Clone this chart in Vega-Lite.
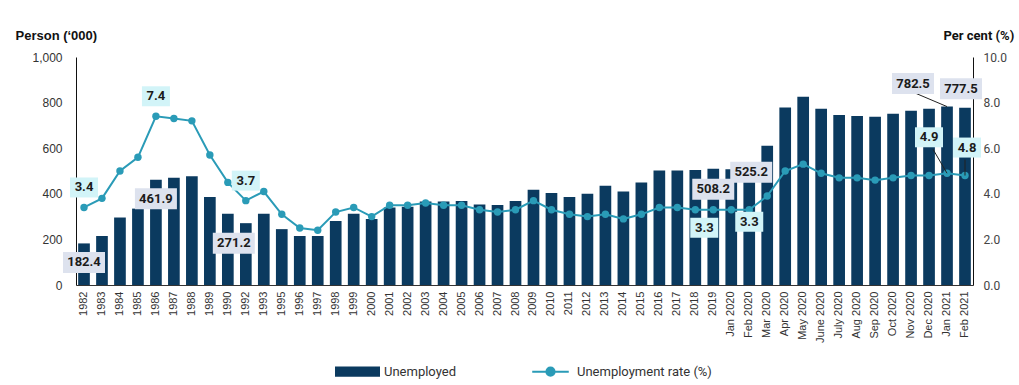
{
  "$schema": "https://vega.github.io/schema/vega-lite/v6.json",
  "width": 897,
  "height": 228,
  "autosize": {"type": "none"},
  "padding": {"left": 76, "top": 57, "right": 46, "bottom": 100},
  "background": "white",
  "config": {"view": {"stroke": null}, "font": "Liberation Sans"},
  "data": {"values": [
    {"cat": "1982", "u": 182.4, "r": 3.4},
    {"cat": "1983", "u": 215, "r": 3.8},
    {"cat": "1984", "u": 296, "r": 5.0},
    {"cat": "1985", "u": 335, "r": 5.6},
    {"cat": "1986", "u": 461.9, "r": 7.4},
    {"cat": "1987", "u": 470, "r": 7.3},
    {"cat": "1988", "u": 477, "r": 7.2},
    {"cat": "1989", "u": 386, "r": 5.7},
    {"cat": "1990", "u": 313, "r": 4.5},
    {"cat": "1992", "u": 271.2, "r": 3.7},
    {"cat": "1993", "u": 313, "r": 4.1},
    {"cat": "1995", "u": 245, "r": 3.1},
    {"cat": "1996", "u": 215, "r": 2.5},
    {"cat": "1997", "u": 215, "r": 2.4},
    {"cat": "1998", "u": 281, "r": 3.2},
    {"cat": "1999", "u": 313, "r": 3.4},
    {"cat": "2000", "u": 290, "r": 3.0},
    {"cat": "2001", "u": 340, "r": 3.5},
    {"cat": "2002", "u": 343, "r": 3.5},
    {"cat": "2003", "u": 366, "r": 3.6},
    {"cat": "2004", "u": 366, "r": 3.5},
    {"cat": "2005", "u": 368, "r": 3.5},
    {"cat": "2006", "u": 353, "r": 3.3},
    {"cat": "2007", "u": 351, "r": 3.2},
    {"cat": "2008", "u": 368, "r": 3.3},
    {"cat": "2009", "u": 418, "r": 3.7},
    {"cat": "2010", "u": 403, "r": 3.3},
    {"cat": "2011", "u": 386, "r": 3.1},
    {"cat": "2012", "u": 400, "r": 3.0},
    {"cat": "2013", "u": 435, "r": 3.1},
    {"cat": "2014", "u": 410, "r": 2.9},
    {"cat": "2015", "u": 450, "r": 3.1},
    {"cat": "2016", "u": 502, "r": 3.4},
    {"cat": "2017", "u": 502, "r": 3.4},
    {"cat": "2018", "u": 504, "r": 3.3},
    {"cat": "2019", "u": 510, "r": 3.3},
    {"cat": "Jan 2020", "u": 508.2, "r": 3.3},
    {"cat": "Feb 2020", "u": 525.2, "r": 3.3},
    {"cat": "Mar 2020", "u": 610.5, "r": 3.9},
    {"cat": "Apr 2020", "u": 778.8, "r": 5.0},
    {"cat": "May 2020", "u": 826.1, "r": 5.3},
    {"cat": "June 2020", "u": 773.2, "r": 4.9},
    {"cat": "July 2020", "u": 745.1, "r": 4.7},
    {"cat": "Aug 2020", "u": 741.6, "r": 4.7},
    {"cat": "Sep 2020", "u": 737.5, "r": 4.6},
    {"cat": "Oct 2020", "u": 751.2, "r": 4.7},
    {"cat": "Nov 2020", "u": 764.4, "r": 4.8},
    {"cat": "Dec 2020", "u": 772.9, "r": 4.8},
    {"cat": "Jan 2021", "u": 782.5, "r": 4.9},
    {"cat": "Feb 2021", "u": 777.5, "r": 4.8}
  ]},
  "encoding": {
    "x": {
      "field": "cat", "type": "ordinal", "sort": null,
      "scale": {"paddingInner": 0.35, "paddingOuter": 0.12},
      "axis": {"title": null, "labelAngle": -90, "labelFontSize": 11, "labelColor": "#333", "labelFont": "Liberation Sans", "ticks": false, "tickSize": 0, "labelPadding": 6, "domainColor": "#333", "labelOverlap": false}
    }
  },
  "layer": [
    {
      "encoding": {
        "y": {
          "field": "u", "type": "quantitative",
          "scale": {"domain": [0, 1000], "nice": false},
          "axis": {"title": "Person (‘000)", "titleAngle": 0, "titleX": -61, "titleY": -22, "titleAlign": "left", "titleBaseline": "middle", "titleFont": "Liberation Sans", "titleFontSize": 13, "titleFontWeight": "bold", "titleColor": "#111", "values": [0, 200, 400, 600, 800, 1000], "format": ",.0f", "grid": false, "ticks": false, "tickSize": 0, "labelPadding": 14, "labelFontSize": 12, "labelColor": "#333", "labelFont": "Liberation Sans", "domainColor": "#111"}
        }
      },
      "layer": [
        {
          "mark": {"type": "bar"},
          "encoding": {
            "color": {
              "datum": "Unemployed",
              "scale": {"domain": ["Unemployed", "Unemployment rate (%)"], "range": ["#0b3a5f", "#2a9bb7"]},
              "legend": {
                "orient": "none", "legendX": 259, "legendY": 292, "direction": "horizontal", "title": null, "padding": 0,
                "symbolSize": 1849, "symbolStrokeWidth": 2, "labelFontSize": 13, "labelFont": "Roboto", "labelColor": "#333", "labelOffset": 4, "columnPadding": 72, "labelLimit": 0,
                "encode": {"symbols": {"update": {
                  "shape": [{"test": "datum.value === 'Unemployed'", "value": "M-1,-0.19H1V0.19H-1Z"}, {"value": "M-0.85,0H0.85M-0.19,0A0.19,0.19,0,1,1,0.19,0A0.19,0.19,0,1,1,-0.19,0Z"}],
                  "fill": [{"test": "datum.value === 'Unemployed'", "value": "#0b3a5f"}, {"value": "#2a9bb7"}],
                  "stroke": [{"test": "datum.value === 'Unemployed'", "value": "#0b3a5f"}, {"value": "#2a9bb7"}],
                  "opacity": {"value": 1}, "fillOpacity": {"value": 1}, "strokeOpacity": {"value": 1}
                }}}
              }
            }
          }
        },
        {
          "transform": [{"filter": {"field": "cat", "equal": "Jan 2021"}}],
          "mark": {"type": "rule", "color": "#222", "strokeWidth": 1, "x2Offset": -33, "y2Offset": -14},
          "encoding": {"x2": {"field": "cat"}, "y2": {"field": "u"}}
        },
        {"transform": [{"filter": {"field": "cat", "oneOf": ["1982", "1986"]}}], "mark": {"type": "point", "shape": "M-1,-0.5H1V0.5H-1Z", "size": 1764, "filled": true, "fill": "#dde2ee", "opacity": 1, "strokeWidth": 0, "yOffset": 19}},
        {"transform": [{"filter": {"field": "cat", "oneOf": ["1982", "1986"]}}], "mark": {"type": "text", "font": "Roboto", "fontWeight": "bold", "fontSize": 13, "color": "#1b1b1b", "baseline": "middle", "yOffset": 19}, "encoding": {"text": {"field": "u", "format": ".1f"}}},
        {"transform": [{"filter": {"field": "cat", "equal": "1992"}}], "mark": {"type": "point", "shape": "M-1,-0.5H1V0.5H-1Z", "size": 1764, "filled": true, "fill": "#dde2ee", "opacity": 1, "strokeWidth": 0, "xOffset": -12, "yOffset": 20}},
        {"transform": [{"filter": {"field": "cat", "equal": "1992"}}], "mark": {"type": "text", "font": "Roboto", "fontWeight": "bold", "fontSize": 13, "color": "#1b1b1b", "baseline": "middle", "xOffset": -12, "yOffset": 20}, "encoding": {"text": {"field": "u", "format": ".1f"}}},
        {"transform": [{"filter": {"field": "cat", "equal": "Jan 2020"}}], "mark": {"type": "point", "shape": "M-1,-0.5H1V0.5H-1Z", "size": 1764, "filled": true, "fill": "#dde2ee", "opacity": 1, "strokeWidth": 0, "xOffset": -18, "yOffset": 20}},
        {"transform": [{"filter": {"field": "cat", "equal": "Jan 2020"}}], "mark": {"type": "text", "font": "Roboto", "fontWeight": "bold", "fontSize": 13, "color": "#1b1b1b", "baseline": "middle", "xOffset": -18, "yOffset": 20}, "encoding": {"text": {"field": "u", "format": ".1f"}}},
        {"transform": [{"filter": {"field": "cat", "equal": "Feb 2020"}}], "mark": {"type": "point", "shape": "M-1,-0.5H1V0.5H-1Z", "size": 1764, "filled": true, "fill": "#dde2ee", "opacity": 1, "strokeWidth": 0, "xOffset": 2, "yOffset": 7}},
        {"transform": [{"filter": {"field": "cat", "equal": "Feb 2020"}}], "mark": {"type": "text", "font": "Roboto", "fontWeight": "bold", "fontSize": 13, "color": "#1b1b1b", "baseline": "middle", "xOffset": 2, "yOffset": 7}, "encoding": {"text": {"field": "u", "format": ".1f"}}},
        {"transform": [{"filter": {"field": "cat", "equal": "Jan 2021"}}], "mark": {"type": "point", "shape": "M-1,-0.5H1V0.5H-1Z", "size": 1764, "filled": true, "fill": "#dde2ee", "opacity": 1, "strokeWidth": 0, "xOffset": -34, "yOffset": -23}},
        {"transform": [{"filter": {"field": "cat", "equal": "Jan 2021"}}], "mark": {"type": "text", "font": "Roboto", "fontWeight": "bold", "fontSize": 13, "color": "#1b1b1b", "baseline": "middle", "xOffset": -34, "yOffset": -23}, "encoding": {"text": {"field": "u", "format": ".1f"}}},
        {"transform": [{"filter": {"field": "cat", "equal": "Feb 2021"}}], "mark": {"type": "point", "shape": "M-1,-0.5H1V0.5H-1Z", "size": 1764, "filled": true, "fill": "#dde2ee", "opacity": 1, "strokeWidth": 0, "xOffset": -4, "yOffset": -19}},
        {"transform": [{"filter": {"field": "cat", "equal": "Feb 2021"}}], "mark": {"type": "text", "font": "Roboto", "fontWeight": "bold", "fontSize": 13, "color": "#1b1b1b", "baseline": "middle", "xOffset": -4, "yOffset": -19}, "encoding": {"text": {"field": "u", "format": ".1f"}}}
      ]
    },
    {
      "encoding": {
        "y": {
          "field": "r", "type": "quantitative",
          "scale": {"domain": [0, 10], "nice": false},
          "axis": {"orient": "right", "title": "Per cent (%)", "titleAngle": 0, "titleX": -30, "titleY": -22, "titleAlign": "left", "titleBaseline": "middle", "titleFont": "Roboto", "titleFontSize": 13, "titleFontWeight": "bold", "titleColor": "#111", "values": [0, 2, 4, 6, 8, 10], "format": ".1f", "grid": false, "ticks": false, "tickSize": 0, "labelPadding": 10, "labelFontSize": 12, "labelColor": "#444", "labelFont": "Roboto", "domainColor": "#111"}
        }
      },
      "layer": [
        {
          "mark": {"type": "line", "strokeWidth": 2, "point": {"filled": true, "size": 55}},
          "encoding": {"color": {"datum": "Unemployment rate (%)"}}
        },
        {
          "transform": [{"filter": {"field": "cat", "equal": "Jan 2021"}}],
          "mark": {"type": "rule", "color": "#222", "strokeWidth": 1, "x2Offset": -14, "y2Offset": -24},
          "encoding": {"x2": {"field": "cat"}, "y2": {"field": "r"}}
        },
        {
          "transform": [{"filter": {"field": "cat", "equal": "Feb 2021"}}],
          "mark": {"type": "rule", "color": "#222", "strokeWidth": 1, "y2Offset": -16},
          "encoding": {"x2": {"field": "cat"}, "y2": {"field": "r"}}
        },
        {"transform": [{"filter": {"field": "cat", "oneOf": ["1982", "1986", "1992"]}}], "mark": {"type": "point", "shape": "M-1,-0.714H1V0.714H-1Z", "size": 784, "filled": true, "fill": "#d2f4f8", "opacity": 1, "strokeWidth": 0, "yOffset": -20}},
        {"transform": [{"filter": {"field": "cat", "oneOf": ["1982", "1986", "1992"]}}], "mark": {"type": "text", "font": "Roboto", "fontWeight": "bold", "fontSize": 13, "color": "#1b1b1b", "baseline": "middle", "yOffset": -20}, "encoding": {"text": {"field": "r", "format": ".1f"}}},
        {"transform": [{"filter": {"field": "cat", "equal": "Jan 2020"}}], "mark": {"type": "point", "shape": "M-1,-0.714H1V0.714H-1Z", "size": 784, "filled": true, "fill": "#d2f4f8", "opacity": 1, "strokeWidth": 0, "xOffset": -27, "yOffset": 18}},
        {"transform": [{"filter": {"field": "cat", "equal": "Jan 2020"}}], "mark": {"type": "text", "font": "Roboto", "fontWeight": "bold", "fontSize": 13, "color": "#1b1b1b", "baseline": "middle", "xOffset": -27, "yOffset": 18}, "encoding": {"text": {"field": "r", "format": ".1f"}}},
        {"transform": [{"filter": {"field": "cat", "equal": "Feb 2020"}}], "mark": {"type": "point", "shape": "M-1,-0.714H1V0.714H-1Z", "size": 784, "filled": true, "fill": "#d2f4f8", "opacity": 1, "strokeWidth": 0, "yOffset": 12}},
        {"transform": [{"filter": {"field": "cat", "equal": "Feb 2020"}}], "mark": {"type": "text", "font": "Roboto", "fontWeight": "bold", "fontSize": 13, "color": "#1b1b1b", "baseline": "middle", "yOffset": 12}, "encoding": {"text": {"field": "r", "format": ".1f"}}},
        {"transform": [{"filter": {"field": "cat", "equal": "Jan 2021"}}], "mark": {"type": "point", "shape": "M-1,-0.714H1V0.714H-1Z", "size": 784, "filled": true, "fill": "#d2f4f8", "opacity": 1, "strokeWidth": 0, "xOffset": -18, "yOffset": -36}},
        {"transform": [{"filter": {"field": "cat", "equal": "Jan 2021"}}], "mark": {"type": "text", "font": "Roboto", "fontWeight": "bold", "fontSize": 13, "color": "#1b1b1b", "baseline": "middle", "xOffset": -18, "yOffset": -36}, "encoding": {"text": {"field": "r", "format": ".1f"}}},
        {"transform": [{"filter": {"field": "cat", "equal": "Feb 2021"}}], "mark": {"type": "point", "shape": "M-1,-0.714H1V0.714H-1Z", "size": 784, "filled": true, "fill": "#d2f4f8", "opacity": 1, "strokeWidth": 0, "xOffset": 2, "yOffset": -28}},
        {"transform": [{"filter": {"field": "cat", "equal": "Feb 2021"}}], "mark": {"type": "text", "font": "Roboto", "fontWeight": "bold", "fontSize": 13, "color": "#1b1b1b", "baseline": "middle", "xOffset": 2, "yOffset": -28}, "encoding": {"text": {"field": "r", "format": ".1f"}}}
      ]
    }
  ],
  "resolve": {"scale": {"y": "independent"}}
}
